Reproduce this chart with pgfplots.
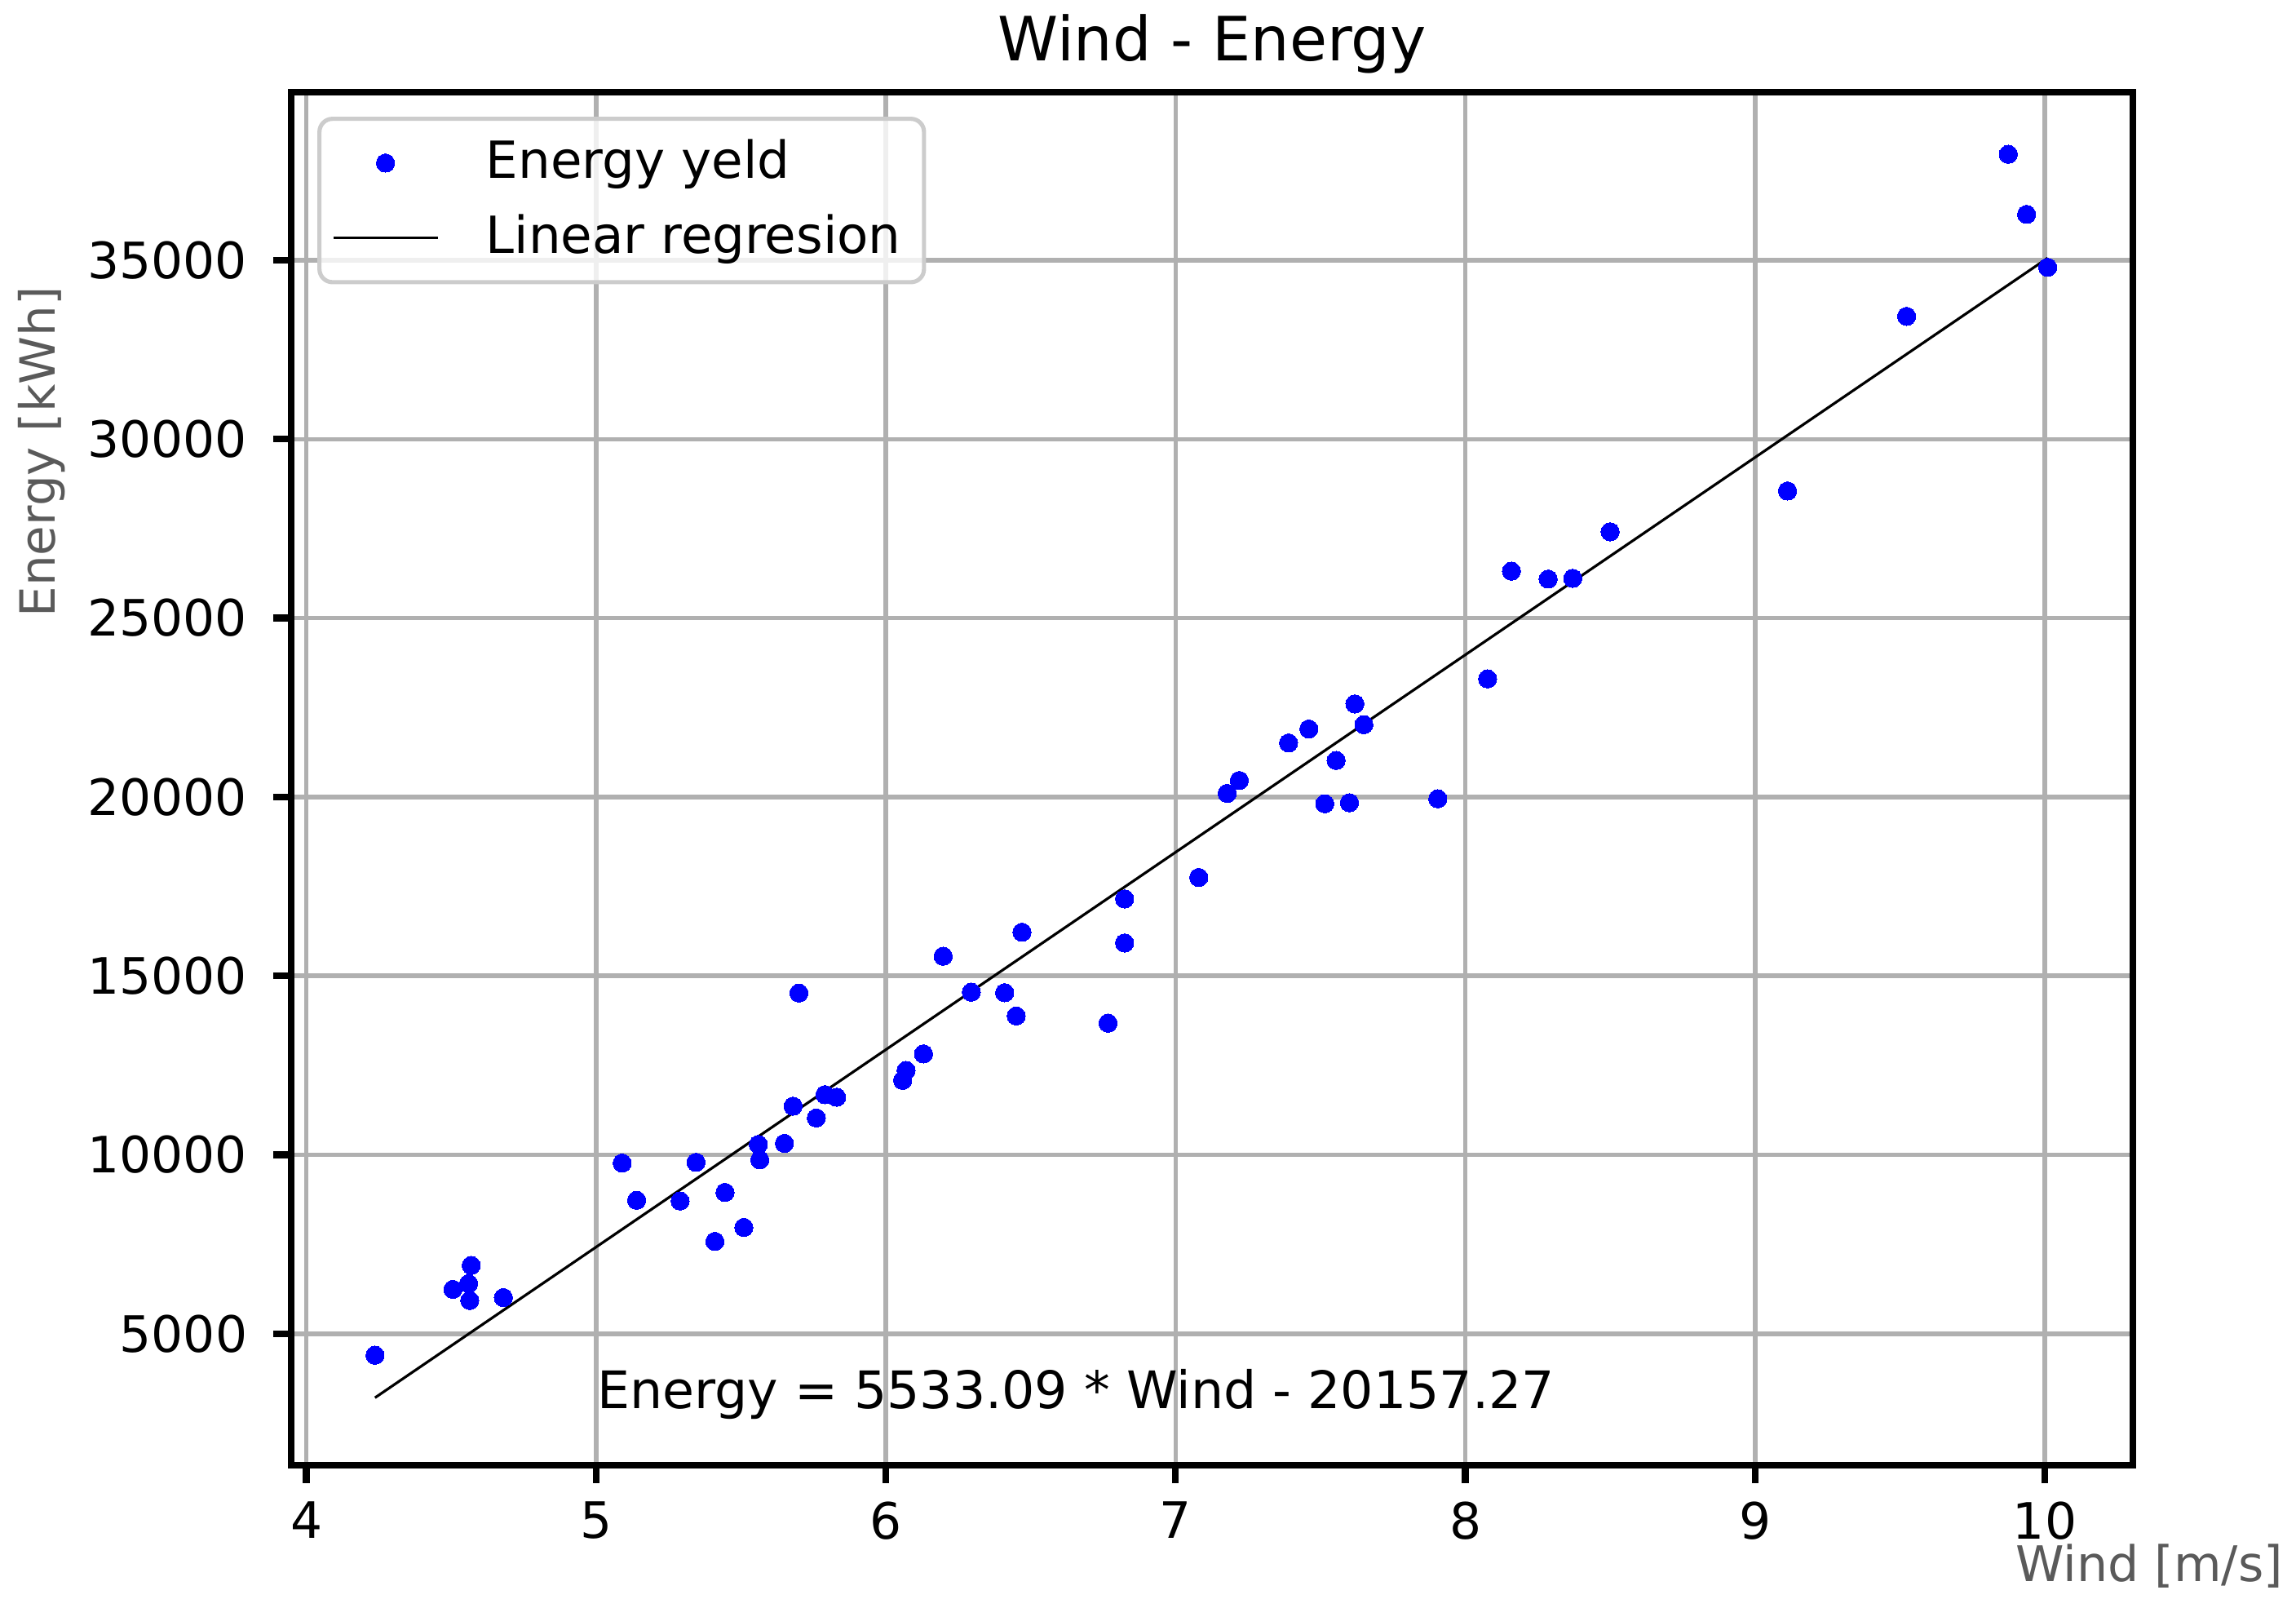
\documentclass[border=0pt]{standalone}
\usepackage{pgfplots}
\pgfplotsset{compat=1.18}
\usepackage{pgfplotstable}
\usepackage{fontspec}
\setmainfont{DejaVu Sans}
\definecolor{gridgray}{HTML}{B0B0B0}
\definecolor{labelgray}{HTML}{5A5A5A}
\definecolor{legedge}{HTML}{CCCCCC}
\definecolor{dotblue}{RGB}{0,0,255}

\pgfplotsset{
  dotlegend/.style={legend image code/.code={\draw[mark repeat=2,mark phase=2,##1,fill opacity=1,draw opacity=1] plot coordinates {(0pt,0pt) (10pt,0pt) (20pt,0pt)};}},
  linelegend/.style={legend image code/.code={\draw[##1,draw opacity=1] (0pt,0pt) -- (20pt,0pt);}},
}

\pgfplotstableread{
x y
4.237 4400
4.506 6240
4.560 6400
4.564 5930
4.569 6910
4.680 6010
5.090 9770
5.140 8730
5.290 8710
5.345 9790
5.410 7580
5.445 8950
5.510 7970
5.560 10290
5.565 9860
5.650 10320
5.680 11360
5.700 14520
5.760 11030
5.790 11680
5.830 11610
6.058 12080
6.070 12360
6.130 12820
6.198 15550
6.295 14545
6.410 14530
6.450 13880
6.470 16220
6.767 13680
6.824 17150
6.824 15920
7.080 17750
7.178 20100
7.220 20460
7.390 21510
7.460 21900
7.515 19810
7.554 21020
7.600 19840
7.619 22600
7.650 22020
7.905 19950
8.077 23300
8.159 26310
8.286 26090
8.371 26110
8.500 27410
9.112 28550
9.523 33430
9.874 37960
9.937 36280
10.010 34800
}\energydata

\pgfplotstableread{
x y
4.237 3213
10.010 35061
}\regline

\begin{document}
\begin{tikzpicture}
\begin{axis}[
  name=ax,
  scale only axis,
  width=352.8pt, height=263pt,
  xmin=3.948, xmax=10.304, ymin=1322, ymax=39695,
  xtick={4,5,6,7,8,9,10},
  ytick={5000,10000,15000,20000,25000,30000,35000},
  scaled ticks=false,
  /pgf/number format/assume math mode=true,
  /pgf/number format/1000 sep={},
  tick label style={font=\fontsize{9.6}{11.5}\selectfont, black},
  yticklabel style={xshift=-1.5pt},
  grid=major,
  major grid style={gridgray, line width=0.85pt},
  axis line style={line width=1.3pt},
  every tick/.style={black, line width=1.3pt},
  tick align=outside, major tick length=3.4pt,
  tick pos=left,
  title={Wind - Energy},
  every axis title/.style={at={(axis description cs:0.5,1)}, anchor=base, yshift=5.94pt, font=\fontsize{11.7}{14}\selectfont},
  ylabel={Energy [kWh]},
  every axis y label/.style={at={(axis description cs:-0.1355,0.738)}, rotate=90, anchor=center, font=\fontsize{9.3}{11}\selectfont, text=labelgray},
  xlabel={Wind [m/s]},
  every axis x label/.style={at={(axis description cs:1.009,-0.0844)}, anchor=base, font=\fontsize{9.4}{11}\selectfont, text=labelgray},
  legend cell align=left,
  legend style={at={(axis description cs:0,1)}, anchor=north west, xshift=5pt, yshift=-4.7pt,
    draw=legedge, line width=0.8pt, rounded corners=2.5pt, fill=white, fill opacity=0.8,
    text opacity=1, draw opacity=1, inner xsep=2.4pt, inner ysep=2pt,
    row sep=1.4pt, column sep=7.0pt,
    font=\fontsize{9.8}{11.7}\selectfont},
]
\addplot[only marks, mark=*, mark size=1.75pt, color=dotblue, mark options={draw=dotblue, fill=dotblue, line width=0pt}, dotlegend]
  table[x=x, y=y] {\energydata};
\addlegendentry{Energy yeld}
\addplot[black, line width=0.5pt, no marks, linelegend]
  table[x=x, y=y] {\regline};
\addlegendentry{Linear regresion}
\node[anchor=base west, font=\fontsize{9.9}{11.8}\selectfont, inner sep=0pt] at (axis cs:5,2900) {Energy = 5533.09 * Wind - 20157.27};
\end{axis}
\pgfresetboundingbox
\path[use as bounding box] ([xshift=-55.8pt,yshift=-27.2pt]ax.south west) rectangle ([xshift=31.25pt,yshift=17.66pt]ax.north east);
\end{tikzpicture}
\end{document}
